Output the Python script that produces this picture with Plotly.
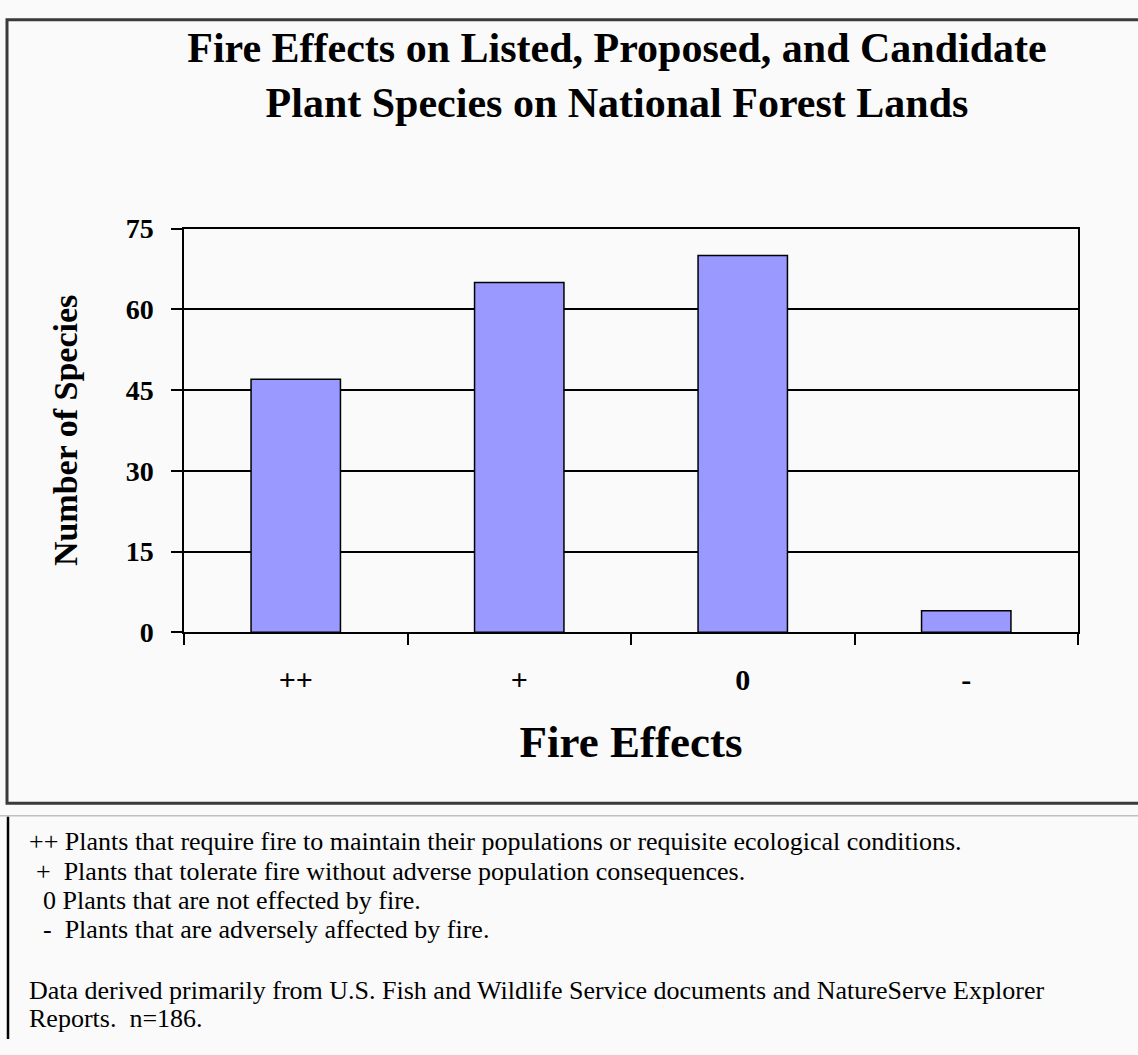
import plotly.graph_objects as go

categories = ["++", "+", "0", "-"]
species_counts = [47, 65, 70, 4]
y_ticks = [0, 15, 30, 45, 60, 75]

title_lines = ["Fire Effects on Listed, Proposed, and Candidate",
               "Plant Species on National Forest Lands"]
x_title = "Fire Effects"
y_title = "Number of Species"

footnote_texts = [
    "++ Plants that require fire to maintain their populations or requisite ecological conditions.",
    "+&nbsp; Plants that tolerate fire without adverse population consequences.",
    "0 Plants that are not effected by fire.",
    "-&nbsp; Plants that are adversely affected by fire.",
    "Data derived primarily from U.S. Fish and Wildlife Service documents and NatureServe Explorer",
    "Reports.&nbsp; n=186.",
]
footnote_x = [27, 34, 41, 41, 27, 27]
footnote_y = [852, 882, 912, 942, 1005, 1034]

W, H = 1138, 1055
SERIF = "Liberation Serif, Times New Roman, serif"


def px(x):
    return x / W


def py(y):
    return 1 - y / H


fig = go.Figure(go.Bar(
    x=categories, y=species_counts, width=0.4,
    marker=dict(color="#9999FF", line=dict(color="#000000", width=1.5)),
    hoverinfo="x+y",
))

fig.update_layout(
    width=W, height=H,
    margin=dict(l=0, r=0, t=0, b=0),
    paper_bgcolor="#fafafa", plot_bgcolor="#fafafa",
    showlegend=False,
    title=dict(text="<br>".join(title_lines), x=px(617), xanchor="center",
               y=py(62), yanchor="middle",
               font=dict(family=SERIF, size=42, color="#000", weight="bold")),
    xaxis=dict(domain=[px(184), px(1078)], type="category",
               categoryorder="array", categoryarray=categories,
               range=[-0.5, 3.5], tickson="boundaries", ticks="outside",
               ticklen=11, tickwidth=1.5, tickcolor="#000",
               showline=True, linecolor="#000", linewidth=1.5, mirror=True,
               showgrid=False, ticklabelstandoff=20,
               tickfont=dict(family=SERIF, size=30, color="#000", weight="bold"),
               title=dict(text=x_title, standoff=30,
                          font=dict(family=SERIF, size=45, color="#000", weight="bold"))),
    yaxis=dict(domain=[py(636), py(220)], range=[0, 75], tickvals=y_ticks,
               ticks="outside", ticklen=11, tickwidth=1.5, tickcolor="#000",
               showline=True, linecolor="#000", linewidth=1.5, mirror=True,
               showgrid=True, gridcolor="#000", gridwidth=1.5, zeroline=False,
               ticklabelstandoff=12,
               tickfont=dict(family=SERIF, size=28, color="#000", weight="bold"),
               title=dict(text=y_title, standoff=38,
                          font=dict(family=SERIF, size=34, color="#000", weight="bold"))),
)

# chart frame (right edge runs past the picture)
fig.add_shape(type="rect", xref="paper", yref="paper",
              x0=px(7), x1=px(1145), y0=py(812), y1=py(5),
              line=dict(color="#3a3a3a", width=3), layer="above")
# separator under chart and left rule of the note box
fig.add_shape(type="line", xref="paper", yref="paper",
              x0=0, x1=1, y0=py(825), y1=py(825),
              line=dict(color="#c0c0c0", width=1.5))
fig.add_shape(type="line", xref="paper", yref="paper",
              x0=px(8), x1=px(8), y0=py(826), y1=0,
              line=dict(color="#000", width=2.5))

for text, x, y in zip(footnote_texts, footnote_x, footnote_y):
    fig.add_annotation(text=text, xref="paper", yref="paper",
                       x=px(x), y=py(y), xanchor="left", yanchor="middle",
                       showarrow=False,
                       font=dict(family=SERIF, size=26, color="#000"))

fig.write_html("out.html", config={"displayModeBar": False},
               post_script="document.body.style.margin='0';")
